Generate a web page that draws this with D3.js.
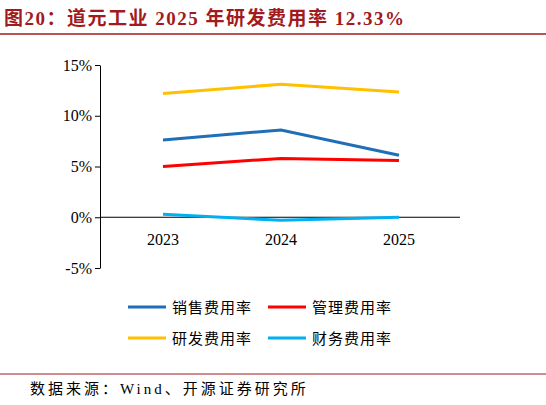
<!DOCTYPE html><html><head><meta charset="utf-8"><script src="https://cdn.jsdelivr.net/npm/d3@7"></script>
<style>body{margin:0;background:#fff}</style></head><body><svg id="c" width="546" height="405"></svg>
<script>
const years=["2023","2024","2025"];
const sales=[7.6,8.6,6.1];
const mgmt=[5.0,5.8,5.6];
const rnd=[12.2,13.1,12.33];
const fin=[0.3,-0.3,0.0];
const yTicks=[-5,0,5,10,15];
const series=[{name:"销售费用率",v:sales,c:"#1f6fb6"},{name:"管理费用率",v:mgmt,c:"#ff0000"},{name:"研发费用率",v:rnd,c:"#ffc000"},{name:"财务费用率",v:fin,c:"#00b0f0"}];
const svg=d3.select("#c");
const serif="'Liberation Serif','Times New Roman',serif";
const cjk="'Noto Sans CJK SC',sans-serif";
svg.append("text").attr("x",4).attr("y",25).attr("fill","#a01a1e").attr("font-weight","bold").attr("font-size",19).attr("letter-spacing",1.5).attr("font-family",serif+","+cjk).text("图20：道元工业 2025 年研发费用率 12.33%");
svg.append("line").attr("x1",0).attr("x2",546).attr("y1",34).attr("y2",34).attr("stroke","#a01a1e").attr("stroke-width",1.5);
const x=d3.scalePoint().domain(years).range([163,399]);
const y=d3.scaleLinear().domain([-5,15]).range([268,65]);
const ya=svg.append("g").attr("transform","translate(100,0)").call(d3.axisLeft(y).tickValues(yTicks).tickFormat(d=>d+"%").tickSize(5).tickSizeOuter(0));
ya.select(".domain").attr("stroke","#000");
ya.selectAll("text").attr("font-family",serif).attr("font-size",16).attr("fill","#000");
svg.append("line").attr("x1",100).attr("x2",460).attr("y1",y(0)).attr("y2",y(0)).attr("stroke","#000");
years.forEach(d=>svg.append("text").attr("x",x(d)).attr("y",245).attr("text-anchor","middle").attr("font-family",serif).attr("font-size",16).text(d));
const line=d3.line().x((d,i)=>x(years[i])).y(d=>y(d));
series.forEach(s=>svg.append("path").attr("d",line(s.v)).attr("fill","none").attr("stroke",s.c).attr("stroke-width",3));
series.forEach((s,i)=>{const lx=i%2?268:128, ly=i<2?307:338;
svg.append("line").attr("x1",lx).attr("x2",lx+38).attr("y1",ly).attr("y2",ly).attr("stroke",s.c).attr("stroke-width",3);
svg.append("text").attr("x",lx+44).attr("y",ly+6).attr("font-family",cjk).attr("font-size",15).attr("letter-spacing",1).text(s.name);});
svg.append("line").attr("x1",0).attr("x2",546).attr("y1",374).attr("y2",374).attr("stroke","#a01a1e").attr("stroke-width",1);
svg.append("text").attr("x",30).attr("y",394).attr("font-family",serif+","+cjk).attr("font-size",15).attr("letter-spacing",3).text("数据来源：Wind、开源证券研究所");
</script></body></html>
